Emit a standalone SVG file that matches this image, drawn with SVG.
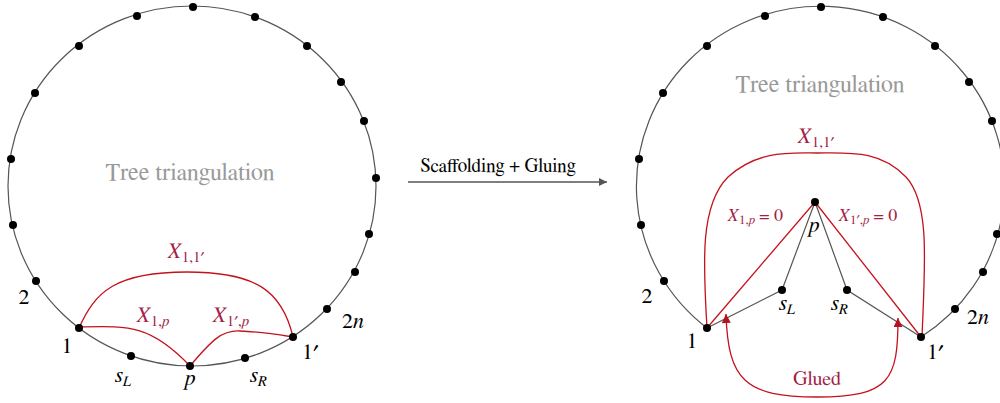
<svg xmlns="http://www.w3.org/2000/svg" width="1000" height="403" viewBox="0 0 1000 403" font-family="FreeSerif, 'DejaVu Serif', serif">
<style>
.ring{fill:none;stroke:#555;stroke-width:1.2}
.edge{fill:none;stroke:#555;stroke-width:1.2}
.red{fill:none;stroke:#c4121c;stroke-width:1.3}
.dot{fill:#000}
.lbl{font-size:22px}
.it{font-style:italic}
.rl{fill:#a31f48}
.title{font-size:24px;fill:#999}
.sub{font-size:15px}
.sub2{font-size:13px}
</style>
<defs>
<marker id="ag" viewBox="0 0 10 10" refX="10" refY="5" markerUnits="userSpaceOnUse" markerWidth="11" markerHeight="8" orient="auto"><path d="M0,0 L10,5 L0,10 z" fill="#555"/></marker>
<marker id="ar" viewBox="0 0 10 10" refX="10" refY="5" markerUnits="userSpaceOnUse" markerWidth="11" markerHeight="9" orient="auto-start-reverse"><path d="M0,0 L10,5 L0,10 z" fill="#b0141e"/></marker>
</defs>

<g id="left-diagram">
  <ellipse class="ring" cx="192" cy="186" rx="184" ry="180"/>
  <text class="title" x="190" y="180" text-anchor="middle">Tree triangulation</text>
  <g id="left-connectors">
    <path class="red" d="M79,328 C95,292 115,272 187,272 C255,272 282,290 293,337"/>
    <path class="red" d="M79,327 C128,326 150,324 190,366"/>
    <path class="red" d="M190,366 C212,340 222,330 240,331 C262,332 280,335 293,337"/>
  </g>
  <g id="left-dots">
    <circle class="dot" cx="193" cy="7" r="4"/>
    <circle class="dot" cx="137" cy="16" r="4"/>
    <circle class="dot" cx="79" cy="46" r="4"/>
    <circle class="dot" cx="35" cy="93" r="4"/>
    <circle class="dot" cx="11" cy="159" r="4"/>
    <circle class="dot" cx="13" cy="225" r="4"/>
    <circle class="dot" cx="36" cy="281" r="4"/>
    <circle class="dot" cx="79" cy="328" r="4"/>
    <circle class="dot" cx="131" cy="356" r="4"/>
    <circle class="dot" cx="190" cy="366" r="4"/>
    <circle class="dot" cx="245" cy="358" r="4"/>
    <circle class="dot" cx="293" cy="337" r="4"/>
    <circle class="dot" cx="327" cy="309" r="4"/>
    <circle class="dot" cx="355" cy="272" r="4"/>
    <circle class="dot" cx="369" cy="234" r="4"/>
    <circle class="dot" cx="376" cy="178" r="4"/>
    <circle class="dot" cx="364" cy="121" r="4"/>
    <circle class="dot" cx="341" cy="82" r="4"/>
    <circle class="dot" cx="307" cy="46" r="4"/>
    <circle class="dot" cx="255" cy="17" r="4"/>
  </g>
  <g id="left-labels">
    <text class="lbl" x="24" y="304" text-anchor="middle">2</text>
    <text class="lbl" x="67" y="353" text-anchor="middle">1</text>
    <text class="lbl" x="115" y="382"><tspan class="it">s</tspan><tspan class="sub it" dy="4">L</tspan></text>
    <text class="lbl it" x="190" y="385" text-anchor="middle">p</text>
    <text class="lbl" x="250" y="382"><tspan class="it">s</tspan><tspan class="sub it" dy="4">R</tspan></text>
    <text class="lbl" x="302" y="359">1′</text>
    <text class="lbl" x="342" y="328">2<tspan class="it">n</tspan></text>
    <text class="lbl rl" x="167" y="258"><tspan class="it">X</tspan><tspan class="sub" dy="4">1,1′</tspan></text>
    <text class="lbl rl" x="136" y="322"><tspan class="it">X</tspan><tspan class="sub" dy="4">1,</tspan><tspan class="sub it">p</tspan></text>
    <text class="lbl rl" x="212" y="322"><tspan class="it">X</tspan><tspan class="sub" dy="4">1′,</tspan><tspan class="sub it">p</tspan></text>
  </g>
</g>

<g id="arrow">
  <line x1="408" y1="182" x2="607" y2="182" stroke="#555" stroke-width="1.3" marker-end="url(#ag)"/>
  <text x="498" y="172" text-anchor="middle" font-size="19">Scaffolding + Gluing</text>
</g>

<g id="right-diagram">
  <path class="ring" d="M921,337 A184,180 0 1 0 707,328"/>
  <path class="edge" d="M707,328 L782,290 L815,202 L847,290 L921,337"/>
  <text class="title" x="820" y="92" text-anchor="middle">Tree triangulation</text>
  <g id="right-connectors">
    <path class="red" d="M707,328 C703,262 700,205 728,177 C758,150 790,153 817,153 C850,153 880,150 906,177 C930,203 925,262 922,337"/>
    <line class="red" x1="707" y1="328" x2="815" y2="202"/>
    <line class="red" x1="815" y1="202" x2="921" y2="337"/>
    <path class="red" d="M726,314 C728,380 745,397 817,397 C890,397 898,380 898,318" marker-start="url(#ar)" marker-end="url(#ar)"/>
  </g>
  <g id="right-dots">
    <circle class="dot" cx="821" cy="7" r="4"/>
    <circle class="dot" cx="765" cy="16" r="4"/>
    <circle class="dot" cx="707" cy="46" r="4"/>
    <circle class="dot" cx="663" cy="93" r="4"/>
    <circle class="dot" cx="639" cy="159" r="4"/>
    <circle class="dot" cx="641" cy="225" r="4"/>
    <circle class="dot" cx="664" cy="281" r="4"/>
    <circle class="dot" cx="707" cy="328" r="4"/>
    <circle class="dot" cx="782" cy="290" r="4"/>
    <circle class="dot" cx="815" cy="202" r="4"/>
    <circle class="dot" cx="847" cy="290" r="4"/>
    <circle class="dot" cx="921" cy="337" r="4"/>
    <circle class="dot" cx="955" cy="309" r="4"/>
    <circle class="dot" cx="983" cy="272" r="4"/>
    <circle class="dot" cx="997" cy="234" r="4"/>
    <circle class="dot" cx="1004" cy="178" r="4"/>
    <circle class="dot" cx="992" cy="121" r="4"/>
    <circle class="dot" cx="969" cy="82" r="4"/>
    <circle class="dot" cx="935" cy="46" r="4"/>
    <circle class="dot" cx="883" cy="17" r="4"/>
  </g>
  <g id="right-labels">
    <text class="lbl" x="647" y="303" text-anchor="middle">2</text>
    <text class="lbl" x="692" y="348" text-anchor="middle">1</text>
    <text class="lbl" x="779" y="310"><tspan class="it">s</tspan><tspan class="sub it" dy="4">L</tspan></text>
    <text class="lbl it" x="814" y="232" text-anchor="middle">p</text>
    <text class="lbl" x="831" y="310"><tspan class="it">s</tspan><tspan class="sub it" dy="4">R</tspan></text>
    <text class="lbl" x="927" y="359">1′</text>
    <text class="lbl" x="967" y="324">2<tspan class="it">n</tspan></text>
    <text class="lbl rl" x="797" y="143"><tspan class="it">X</tspan><tspan class="sub" dy="4">1,1′</tspan></text>
    <text class="rl" font-size="18" x="727" y="221"><tspan class="it">X</tspan><tspan class="sub2" dy="3">1,</tspan><tspan class="sub2 it">p</tspan><tspan dy="-3"> = 0</tspan></text>
    <text class="rl" font-size="18" x="838" y="221"><tspan class="it">X</tspan><tspan class="sub2" dy="3">1′,</tspan><tspan class="sub2 it">p</tspan><tspan dy="-3"> = 0</tspan></text>
    <text class="rl" x="817" y="385" text-anchor="middle" font-size="20">Glued</text>
  </g>
</g>
</svg>
